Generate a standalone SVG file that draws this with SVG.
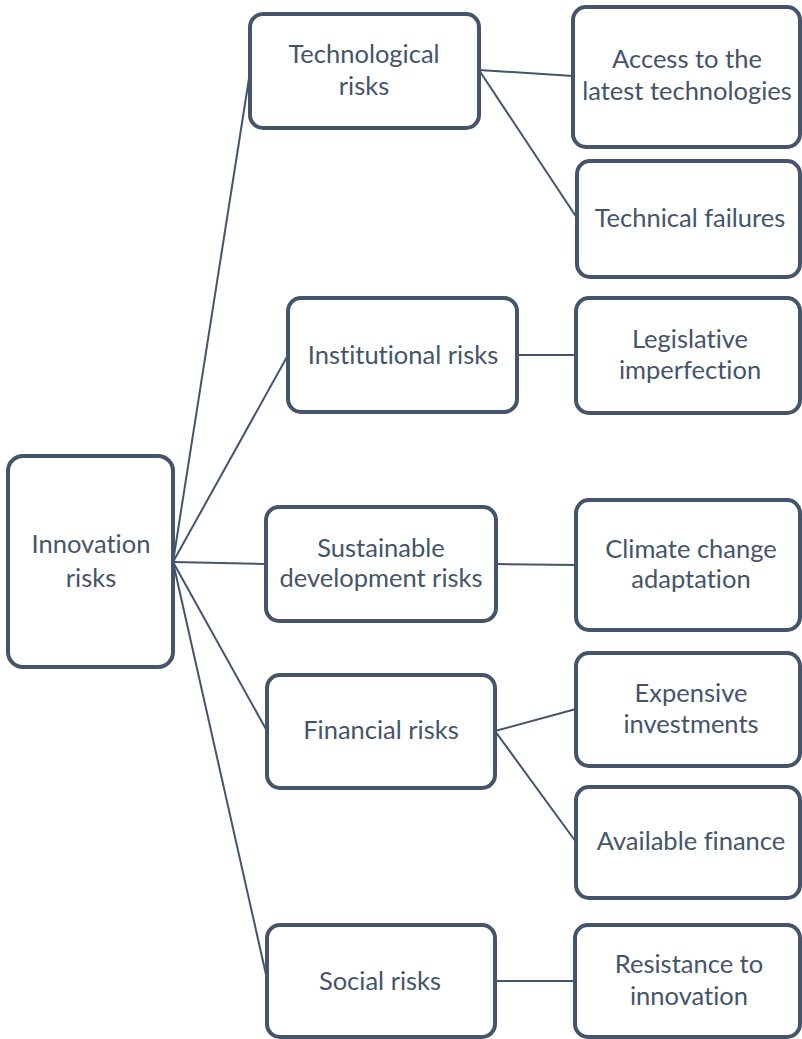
<svg xmlns="http://www.w3.org/2000/svg" width="802" height="1039" viewBox="0 0 802 1039">
  <style>
    .box { fill: #ffffff; stroke: #44546a; stroke-width: 4; }
    .link { stroke: #44546a; stroke-width: 2; fill: none; }
    .label { font-family: Lato, "Liberation Sans", sans-serif; font-size: 25.5px; font-weight: 400; fill: #44546a; text-anchor: middle; font-variant-ligatures: none; }
  </style>
  <rect width="802" height="1039" fill="#ffffff"/>

  <!-- connectors -->
  <g id="connectors">
    <line class="link" x1="173" y1="562" x2="250" y2="72"/>
    <line class="link" x1="173" y1="562" x2="288" y2="355"/>
    <line class="link" x1="173" y1="562" x2="266" y2="564"/>
    <line class="link" x1="173" y1="562" x2="267" y2="731"/>
    <line class="link" x1="173" y1="562" x2="267" y2="979"/>
    <line class="link" x1="479" y1="70" x2="573" y2="76"/>
    <line class="link" x1="479" y1="70" x2="577" y2="218"/>
    <line class="link" x1="517" y1="355" x2="576" y2="355"/>
    <line class="link" x1="496" y1="564" x2="576" y2="565"/>
    <line class="link" x1="495" y1="731" x2="576" y2="709"/>
    <line class="link" x1="495" y1="731" x2="576" y2="842"/>
    <line class="link" x1="495" y1="981" x2="575" y2="981"/>
  </g>

  <!-- root -->
  <g id="innovation-risks">
    <rect class="box" x="8" y="456" width="165" height="211" rx="15"/>
    <text class="label" x="91" y="553">Innovation</text>
    <text class="label" x="91" y="587">risks</text>
  </g>

  <!-- first level -->
  <g id="technological-risks">
    <rect class="box" x="250" y="14" width="229" height="114" rx="13"/>
    <text class="label" x="364" y="63">Technological</text>
    <text class="label" x="364" y="95">risks</text>
  </g>
  <g id="institutional-risks">
    <rect class="box" x="288" y="298" width="229" height="114" rx="13"/>
    <text class="label" x="403" y="364">Institutional risks</text>
  </g>
  <g id="sustainable-development-risks">
    <rect class="box" x="266" y="507" width="230" height="114" rx="13"/>
    <text class="label" x="381" y="557">Sustainable</text>
    <text class="label" x="381" y="587">development risks</text>
  </g>
  <g id="financial-risks">
    <rect class="box" x="267" y="675" width="228" height="113" rx="13"/>
    <text class="label" x="381" y="739">Financial risks</text>
  </g>
  <g id="social-risks">
    <rect class="box" x="267" y="925" width="228" height="112" rx="13"/>
    <text class="label" x="380" y="990">Social risks</text>
  </g>

  <!-- second level -->
  <g id="access-latest-technologies">
    <rect class="box" x="573" y="7" width="227" height="140" rx="13"/>
    <text class="label" x="687" y="68">Access to the</text>
    <text class="label" x="687" y="100">latest technologies</text>
  </g>
  <g id="technical-failures">
    <rect class="box" x="577" y="161" width="223" height="116" rx="13"/>
    <text class="label" x="690" y="227">Technical failures</text>
  </g>
  <g id="legislative-imperfection">
    <rect class="box" x="576" y="298" width="224" height="115" rx="13"/>
    <text class="label" x="690" y="348">Legislative</text>
    <text class="label" x="690" y="379">imperfection</text>
  </g>
  <g id="climate-change-adaptation">
    <rect class="box" x="576" y="500" width="224" height="130" rx="13"/>
    <text class="label" x="691" y="558">Climate change</text>
    <text class="label" x="691" y="588">adaptation</text>
  </g>
  <g id="expensive-investments">
    <rect class="box" x="576" y="653" width="224" height="113" rx="13"/>
    <text class="label" x="691" y="702">Expensive</text>
    <text class="label" x="691" y="733">investments</text>
  </g>
  <g id="available-finance">
    <rect class="box" x="576" y="787" width="224" height="111" rx="13"/>
    <text class="label" x="691" y="850">Available finance</text>
  </g>
  <g id="resistance-to-innovation">
    <rect class="box" x="575" y="925" width="225" height="112" rx="13"/>
    <text class="label" x="689" y="973">Resistance to</text>
    <text class="label" x="689" y="1005">innovation</text>
  </g>
</svg>
